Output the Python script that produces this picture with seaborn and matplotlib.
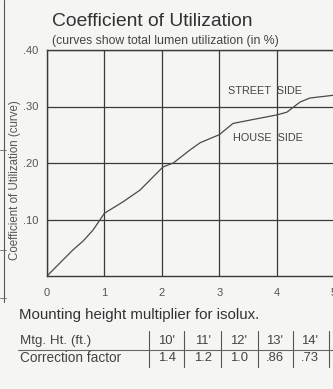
import matplotlib
matplotlib.use("Agg")
import matplotlib.pyplot as plt
from matplotlib.lines import Line2D
import seaborn as sns
import pandas as pd

# Utilization curve: mounting height multiplier vs. coefficient of utilization
multiplier = [0, 0.45, 0.63, 0.8, 1.0, 1.32, 1.62, 2.02, 2.2, 2.49, 2.67,
              3.0, 3.24, 3.54, 4.0, 4.18, 4.41, 4.58, 5.0]
utilization = [0, 0.046, 0.062, 0.081, 0.111, 0.131, 0.152, 0.193, 0.200,
               0.223, 0.236, 0.25, 0.27, 0.276, 0.285, 0.29, 0.308, 0.315, 0.32]

x_ticks = [0, 1, 2, 3, 4, 5]
y_ticks = [0.10, 0.20, 0.30, 0.40]
y_tick_labels = [".10", ".20", ".30", ".40"]

# Mounting height correction table
mtg_heights = ["10'", "11'", "12'", "13'", "14'"]
correction = ["1.4", "1.2", "1.0", ".86", ".73"]

paper = "#f5f5f3"
ink = "#3a3a3a"
txt = "#444444"

sns.set_theme(style="white")
plt.rcParams["font.family"] = ["Liberation Sans", "DejaVu Sans"]

W, H = 333, 389
fig = plt.figure(figsize=(W / 100, H / 100), dpi=100, facecolor=paper)

def fx(px):
    return px / W

def fy(py):
    return 1 - py / H

x0, x5 = 47, 334
y0, y40 = 276, 50
ax = fig.add_axes([fx(x0), fy(y0), fx(x5) - fx(x0), fy(y40) - fy(y0)])
ax.set_facecolor(paper)

df = pd.DataFrame({"m": multiplier, "cu": utilization})
sns.lineplot(data=df, x="m", y="cu", ax=ax, sort=False, estimator=None,
             color="#4a4a4a", linewidth=0.9)

ax.set_xlim(0, 5)
ax.set_ylim(0, 0.40)
ax.set_xticks(x_ticks)
ax.set_xticklabels([str(t) for t in x_ticks], fontsize=8, color="#555555")
ax.set_yticks(y_ticks)
ax.set_yticklabels(y_tick_labels, fontsize=8, color="#555555")
ax.tick_params(axis="both", length=0)
ax.tick_params(axis="y", pad=6)
ax.tick_params(axis="x", pad=9)
ax.grid(True, color=ink, linewidth=0.9)
for s in ax.spines.values():
    s.set_color(ink)
    s.set_linewidth(1.0)
ax.set_xlabel("")
ax.set_ylabel("")

fig.text(fx(15), fy(180), "Coefficient of Utilization (curve)", fontsize=8.3,
         color="#555555", rotation=90, va="center", ha="center")

ax.text(3.15, 0.327, "STREET  SIDE", fontsize=7.8, color=txt,
        va="center", ha="left")
ax.text(3.24, 0.245, "HOUSE  SIDE", fontsize=7.8, color=txt,
        va="center", ha="left")

# Titles
fig.text(fx(52), fy(21), "Coefficient of Utilization", fontsize=13.9,
         color="#333333", va="center", ha="left")
fig.text(fx(52), fy(41), "(curves show total lumen utilization (in %)",
         fontsize=8.85, color=txt, va="center", ha="left")

fig.text(fx(19), fy(315), "Mounting height multiplier for isolux.",
         fontsize=10.8, color="#333333", va="center", ha="left")

# Correction table
fig.text(fx(20), fy(341), "Mtg. Ht. (ft.)", fontsize=9.6, color=txt,
         va="center", ha="left")
fig.text(fx(20), fy(358), "Correction factor", fontsize=9.8, color=txt,
         va="center", ha="left")
col_centers = [167, 203, 239, 275, 310]
for cx, h, c in zip(col_centers, mtg_heights, correction):
    fig.text(fx(cx), fy(341), h, fontsize=9.4, color=txt,
             va="center", ha="center")
    fig.text(fx(cx), fy(358), c, fontsize=9.4, color=txt,
             va="center", ha="center")
for sx in [149, 184, 221, 258, 293, 329]:
    fig.add_artist(Line2D([fx(sx), fx(sx)], [fy(331), fy(367)],
                          color="#555555", linewidth=0.8))
fig.add_artist(Line2D([fx(18), fx(333)], [fy(349.5), fy(349.5)],
                      color="#666666", linewidth=0.8))

# Edge rule of the neighbouring panel
fig.add_artist(Line2D([fx(3.5), fx(3.5)], [fy(0), fy(302)],
                      color="#555555", linewidth=0.8))
for ty in [150, 250, 298]:
    fig.add_artist(Line2D([fx(0), fx(6)], [fy(ty), fy(ty)],
                          color="#666666", linewidth=0.6))

fig.savefig("out.png", dpi=100, facecolor=paper)
